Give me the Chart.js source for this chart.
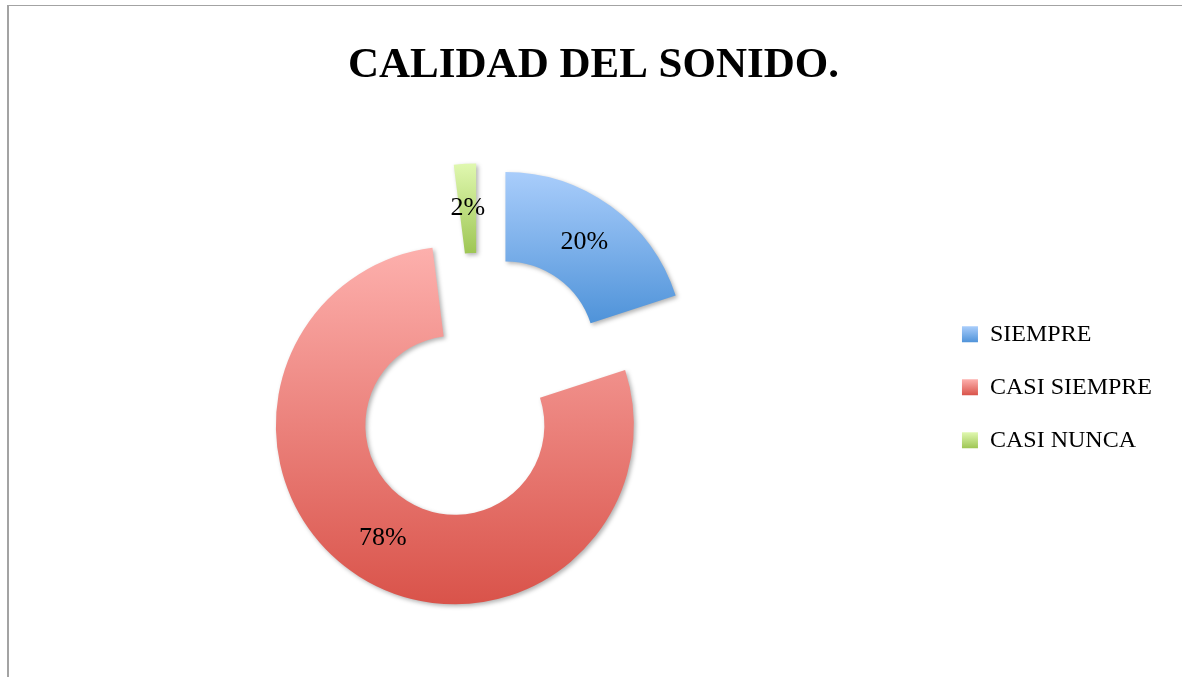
<!DOCTYPE html>
<html>
<head>
<meta charset="utf-8">
<script src="https://cdn.jsdelivr.net/npm/chart.js@4/dist/chart.umd.min.js"></script>
<style>
  body { margin: 0; background: #fff; }
  #wrap { width: 1182px; height: 677px; }
</style>
</head>
<body>
<div id="wrap"><canvas id="sonido"></canvas></div>
<script>
var labels = ['SIEMPRE', 'CASI SIEMPRE', 'CASI NUNCA'];
var values = [20, 78, 2];
var percentLabels = ['20%', '78%', '2%'];

// light at the top of each slice, darker at the bottom
var topColors = ['#a9cdfb', '#fdb0ad', '#e0f8b0'];
var bottomColors = ['#4f93d9', '#d9534a', '#9ec654'];

var serif = "'Liberation Serif', 'DejaVu Serif', serif";
var explode = 45; // every slice pulled out like in excel

function midAngle(arc) {
    return (arc.startAngle + arc.endAngle) / 2;
}

var slices = {
    id: 'slices',
    // move each slice along its bisector (plain translation)
    afterDatasetUpdate: function (chart, args) {
        args.meta.data.forEach(function (arc) {
            var mid = midAngle(arc);
            arc.x += Math.cos(mid) * explode;
            arc.y += Math.sin(mid) * explode;
        });
    },
    beforeDraw: function (chart) {
        var ctx = chart.ctx;
        // chart frame (top and left edge only)
        ctx.save();
        ctx.fillStyle = '#a3a3a3';
        ctx.fillRect(7, 5, 1175, 1);
        ctx.fillRect(7, 5, 2, 672);
        ctx.restore();

        chart.getDatasetMeta(0).data.forEach(function (arc, i) {
            var top = Infinity, bottom = -Infinity;
            for (var k = 0; k <= 60; k++) {
                var a = arc.startAngle + (arc.endAngle - arc.startAngle) * k / 60;
                [arc.innerRadius, arc.outerRadius].forEach(function (r) {
                    var y = arc.y + Math.sin(a) * r;
                    top = Math.min(top, y);
                    bottom = Math.max(bottom, y);
                });
            }
            var g = ctx.createLinearGradient(0, top, 0, bottom);
            g.addColorStop(0, topColors[i]);
            g.addColorStop(1, bottomColors[i]);
            arc.options.backgroundColor = g;
        });

        var legend = chart.legend;
        legend.legendItems.forEach(function (item, i) {
            var hb = legend.legendHitBoxes[i];
            var y0 = hb.top + (hb.height - 16) / 2;
            var g = ctx.createLinearGradient(0, y0, 0, y0 + 16);
            g.addColorStop(0, topColors[i]);
            g.addColorStop(1, bottomColors[i]);
            item.fillStyle = g;
        });
    },
    beforeDatasetDraw: function (chart) {
        var ctx = chart.ctx;
        ctx.save();
        ctx.shadowColor = 'rgba(0, 0, 0, 0.3)';
        ctx.shadowBlur = 4;
        ctx.shadowOffsetX = 2;
        ctx.shadowOffsetY = 2;
    },
    afterDatasetDraw: function (chart) {
        chart.ctx.restore();
    },
    afterDatasetsDraw: function (chart) {
        var ctx = chart.ctx;
        ctx.save();
        ctx.fillStyle = '#000';
        ctx.font = '26px ' + serif;
        ctx.textAlign = 'center';
        ctx.textBaseline = 'middle';
        chart.getDatasetMeta(0).data.forEach(function (arc, i) {
            var mid = midAngle(arc);
            var r = (arc.innerRadius + arc.outerRadius) / 2;
            ctx.fillText(percentLabels[i], arc.x + Math.cos(mid) * r, arc.y + Math.sin(mid) * r);
        });
        ctx.restore();
    }
};

var ctx = document.getElementById('sonido').getContext('2d');
var sonido = new Chart(ctx, {
    type: 'doughnut',
    data: {
        labels: labels,
        datasets: [{
            data: values,
            backgroundColor: topColors,
            borderWidth: 0,
            hoverOffset: 0
        }]
    },
    options: {
        responsive: true,
        maintainAspectRatio: false,
        devicePixelRatio: 1,
        animation: false,
        radius: 179,
        cutout: '50%',
        layout: {
            padding: { left: 25, right: 20, top: 0, bottom: 10 }
        },
        plugins: {
            title: {
                display: true,
                text: 'CALIDAD DEL SONIDO.',
                color: '#000',
                font: { family: serif, size: 43, weight: 'bold' },
                padding: { top: 40, bottom: 16 }
            },
            legend: {
                position: 'right',
                fullSize: false,
                labels: {
                    color: '#000',
                    font: { family: serif, size: 24 },
                    boxWidth: 16,
                    boxHeight: 16,
                    padding: 29
                }
            },
            tooltip: { enabled: false }
        }
    },
    plugins: [slices]
});
</script>
</body>
</html>
